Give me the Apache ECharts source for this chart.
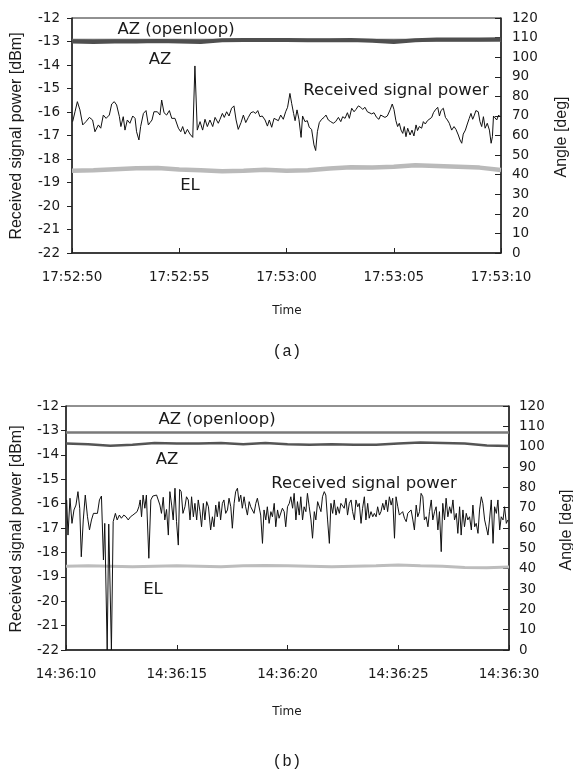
<!DOCTYPE html>
<html>
<head>
<meta charset="utf-8">
<script src="https://cdn.jsdelivr.net/npm/echarts@6/dist/echarts.min.js"></script>
<style>
  html, body { margin: 0; padding: 0; background: #fff; }
  #chart { width: 573px; height: 773px; }
</style>
</head>
<body>
<div id="chart"></div>
<script>
// tick labels of the two time axes
const ticksA = ['17:52:50', '17:52:55', '17:53:00', '17:53:05', '17:53:10'];
const ticksB = ['14:36:10', '14:36:15', '14:36:20', '14:36:25', '14:36:30'];

// seconds for the angle samples
const secs = [0, 1, 2, 3, 4, 5, 6, 7, 8, 9, 10, 11, 12, 13, 14, 15, 16, 17, 18, 19, 20];

// (a) angles [deg]
const azOpenA = [108.6, 108.6, 108.6, 108.6, 108.6, 108.6, 108.6, 108.6, 108.6, 108.6, 108.6, 108.6, 108.6, 108.6, 108.6, 108.6, 108.6, 108.6, 108.6, 108.6, 108.6];
const azA = [108.0, 107.8, 108.0, 108.0, 108.2, 108.0, 107.8, 108.6, 108.8, 108.8, 108.8, 108.6, 108.6, 108.8, 108.4, 107.8, 108.6, 109.0, 109.0, 109.0, 109.2];
const elA = [42.0, 42.3, 42.8, 43.3, 43.4, 42.6, 42.3, 41.7, 42.0, 42.5, 42.0, 42.2, 43.2, 43.8, 43.6, 44.0, 44.8, 44.4, 44.0, 43.6, 42.4];

// (b) angles [deg]
const azOpenB = [107.0, 107.0, 107.0, 107.0, 107.0, 107.0, 107.0, 107.0, 107.0, 107.0, 107.0, 107.0, 107.0, 107.0, 107.0, 107.0, 107.0, 107.0, 107.0, 107.0, 107.0];
const azB = [101.5, 101.2, 100.4, 100.9, 101.8, 101.5, 101.5, 101.8, 101.2, 101.8, 101.2, 100.9, 101.2, 100.9, 100.9, 101.5, 102.0, 101.8, 101.5, 100.6, 100.3];
const elB = [41.2, 41.4, 41.2, 41.0, 41.2, 41.4, 41.2, 41.0, 41.4, 41.6, 41.4, 41.2, 41.0, 41.2, 41.4, 41.8, 41.4, 41.2, 40.6, 40.4, 40.8];

// (a) received signal power [seconds, dBm]
const powerA = [
  [0.03,-16.41],[0.14,-15.99],[0.25,-15.56],[0.37,-15.91],[0.50,-16.55],[0.65,-16.41],[0.81,-16.23],[0.96,-16.34],[1.07,-16.84],[1.23,-16.55],
  [1.34,-16.69],[1.46,-16.13],[1.59,-16.27],[1.74,-16.13],[1.85,-15.66],[1.97,-15.56],[2.08,-15.70],[2.21,-16.20],[2.28,-16.62],[2.39,-16.20],
  [2.47,-16.77],[2.58,-16.34],[2.70,-16.48],[2.83,-16.17],[2.94,-16.27],[3.01,-16.84],[3.12,-17.19],[3.20,-16.62],[3.33,-16.06],[3.45,-15.94],
  [3.56,-16.55],[3.64,-16.45],[3.73,-16.34],[3.82,-15.99],[3.98,-15.99],[4.10,-16.13],[4.18,-15.49],[4.29,-16.03],[4.41,-16.13],[4.54,-15.94],
  [4.65,-16.27],[4.80,-16.27],[4.96,-16.69],[5.07,-16.84],[5.16,-16.62],[5.27,-16.94],[5.38,-16.74],[5.50,-16.94],[5.63,-17.08],[5.73,-14.04],
  [5.84,-16.77],[5.97,-16.41],[6.09,-16.77],[6.20,-16.31],[6.31,-16.62],[6.43,-16.34],[6.56,-16.62],[6.67,-16.23],[6.82,-16.48],
  [6.90,-16.31],[7.01,-16.06],[7.10,-16.23],[7.21,-15.99],[7.32,-16.17],[7.44,-15.84],[7.55,-15.74],[7.65,-16.34],[7.75,-16.74],[7.88,-16.45],
  [7.99,-16.13],[8.10,-16.45],[8.22,-16.23],[8.34,-16.03],[8.45,-15.99],[8.56,-16.06],[8.66,-15.94],[8.76,-16.20],[8.87,-16.17],[9.00,-16.34],
  [9.11,-16.60],[9.20,-16.34],[9.31,-16.65],[9.42,-16.27],[9.51,-16.23],[9.62,-16.37],[9.73,-16.13],[9.85,-16.31],[9.96,-15.99],[10.05,-15.80],
  [10.16,-15.21],[10.24,-15.63],[10.33,-16.06],[10.40,-16.37],[10.49,-15.91],[10.58,-16.31],[10.68,-17.08],[10.75,-16.17],[10.86,-16.41],[10.97,-16.37],
  [11.06,-16.65],[11.17,-16.74],[11.28,-17.40],[11.36,-17.64],[11.44,-16.84],[11.53,-16.45],[11.64,-16.31],[11.75,-16.23],[11.84,-16.13],[11.95,-16.34],
  [12.06,-16.41],[12.18,-16.48],[12.29,-16.41],[12.42,-16.23],[12.53,-16.41],[12.62,-16.20],[12.73,-16.27],[12.84,-16.03],[12.93,-16.27],[13.04,-15.84],
  [13.15,-15.99],[13.24,-15.89],[13.35,-15.74],[13.46,-15.80],
  [13.55,-15.89],[13.66,-15.80],[13.77,-15.99],[13.86,-15.91],[13.97,-16.08],[14.08,-16.03],[14.20,-16.23],[14.31,-16.31],[14.39,-16.13],[14.48,-16.06],
  [14.59,-16.23],[14.70,-16.17],[14.83,-15.91],[14.93,-15.66],[15.01,-15.89],[15.10,-16.37],[15.18,-16.62],[15.26,-16.48],[15.34,-16.77],[15.42,-16.91],
  [15.49,-16.62],[15.57,-17.05],[15.65,-16.69],[15.76,-16.98],[15.85,-16.77],[15.94,-17.02],[16.04,-16.55],[16.11,-16.79],[16.19,-16.62],[16.30,-16.69],
  [16.38,-16.41],[16.47,-16.51],[16.57,-16.37],[16.66,-16.31],[16.77,-16.23],[16.85,-16.03],[16.94,-15.91],[17.05,-15.80],[17.13,-16.17],[17.20,-15.94],
  [17.31,-15.84],[17.41,-16.23],[17.50,-16.34],[17.59,-16.48],[17.70,-16.77],[17.81,-16.62],[17.90,-16.74],[18.01,-16.98],[18.09,-17.19],[18.17,-17.33],
  [18.24,-16.94],[18.34,-16.77],[18.43,-16.51],[18.52,-16.27],[18.60,-16.06],[18.68,-16.31],[18.76,-16.13],[18.83,-15.94],[18.94,-15.99],[19.02,-16.41],
  [19.10,-16.62],[19.18,-16.20],[19.26,-16.69],[19.36,-16.48],[19.46,-16.77],[19.54,-17.33],[19.60,-17.05],[19.65,-16.17],[19.72,-16.23],[19.80,-16.34],
  [19.89,-16.13],[19.95,-16.20]
];

// (b) received signal power [seconds, dBm]
const powerB = [
  [0.03,-15.85],[0.09,-17.29],[0.18,-15.78],[0.27,-16.81],[0.36,-16.26],[0.45,-16.06],[0.54,-15.51],[0.62,-16.19],[0.69,-18.18],[0.78,-16.67],
  [0.87,-15.65],[0.97,-16.54],[1.06,-17.08],[1.15,-16.67],[1.24,-16.40],[1.33,-16.33],[1.42,-16.40],[1.51,-15.85],[1.60,-15.69],[1.69,-18.31],
  [1.75,-16.81],[1.86,-22],[1.93,-16.84],[2.05,-22],[2.13,-16.74],[2.23,-16.40],[2.31,-16.67],[2.41,-16.47],[2.50,-16.60],[2.61,-16.47],
  [2.71,-16.54],[2.81,-16.67],[2.91,-16.54],[3.02,-16.47],[3.11,-16.54],[3.21,-16.33],[3.29,-16.13],[3.35,-15.85],[3.41,-16.54],[3.48,-15.65],
  [3.56,-16.19],[3.63,-15.65],[3.74,-18.24],[3.83,-15.85],[3.92,-15.69],[4.01,-15.61],[4.09,-15.65],[4.16,-15.69],[4.24,-16.06],[4.31,-16.40],
  [4.39,-15.74],[4.46,-16.67],[4.54,-16.24],[4.62,-17.29],[4.69,-15.51],[4.77,-16.06],[4.84,-16.67],[4.92,-15.37],[4.99,-16.74],[5.07,-17.70],
  [5.13,-15.42],[5.20,-15.51],[5.28,-16.40],[5.37,-16.13],[5.44,-15.72],[5.52,-15.85],[5.60,-16.67],[5.67,-15.72],[5.75,-16.54],[5.82,-15.99],
  [5.90,-16.67],[5.97,-15.85],[6.05,-16.33],[6.12,-16.95],[6.20,-15.99],[6.27,-16.67],[6.35,-15.92],[6.43,-16.13],[6.53,-17.08],
  [6.61,-16.54],[6.68,-16.95],[6.76,-16.06],[6.83,-16.54],[6.91,-15.92],[6.98,-16.67],[7.06,-15.99],[7.13,-15.85],[7.21,-16.40],[7.29,-16.26],
  [7.36,-15.78],[7.44,-16.13],[7.51,-17.01],[7.59,-15.99],[7.66,-15.51],[7.74,-15.37],[7.81,-15.92],[7.89,-15.65],[7.96,-16.19],[8.04,-15.72],
  [8.11,-16.13],[8.19,-16.47],[8.27,-15.92],[8.34,-16.13],[8.42,-16.06],[8.49,-16.40],[8.57,-15.99],[8.64,-15.78],[8.72,-15.85],[8.79,-16.47],
  [8.87,-17.63],[8.94,-16.26],[9.02,-16.67],[9.09,-16.13],[9.17,-16.81],[9.25,-16.33],[9.32,-16.54],[9.40,-15.99],[9.47,-16.95],[9.55,-16.26],
  [9.62,-16.60],[9.70,-16.67],[9.77,-16.19],[9.85,-16.33],[9.92,-16.95],[10.00,-16.13],[10.08,-15.99],[10.15,-15.72],[10.23,-16.19],[10.30,-15.58],
  [10.38,-16.67],[10.45,-15.92],[10.53,-16.47],[10.60,-15.72],[10.68,-16.67],[10.75,-16.13],[10.83,-16.33],[10.90,-15.58],[10.98,-16.13],[11.06,-16.67],
  [11.13,-17.42],[11.21,-16.33],[11.28,-16.67],[11.36,-15.92],[11.43,-15.92],[11.51,-16.33],[11.58,-15.72],[11.66,-15.51],[11.73,-15.65],[11.81,-16.67],
  [11.89,-17.63],[11.96,-15.99],[12.04,-16.40],[12.11,-15.85],[12.19,-16.47],[12.26,-16.13],[12.34,-16.40],[12.41,-15.99],[12.49,-15.92],[12.56,-16.19],
  [12.64,-15.78],[12.71,-16.47],[12.79,-15.99],[12.87,-15.85],[12.94,-16.33],[13.02,-16.67],[13.09,-15.85],[13.17,-16.13],
  [13.24,-15.99],[13.32,-16.81],[13.39,-16.19],[13.47,-15.72],[13.54,-16.67],[13.62,-15.99],[13.69,-16.60],[13.77,-16.33],[13.85,-16.54],[13.92,-16.40],
  [14.00,-16.54],[14.07,-16.13],[14.15,-16.47],[14.22,-16.33],[14.30,-15.99],[14.37,-16.26],[14.45,-15.85],[14.52,-16.33],[14.60,-15.72],[14.68,-16.06],
  [14.75,-15.78],[14.83,-17.42],[14.90,-15.72],[14.98,-16.13],[15.05,-16.47],[15.13,-16.54],[15.20,-16.33],[15.28,-16.60],[15.36,-16.74],[15.43,-16.40],
  [15.51,-16.47],[15.58,-16.26],[15.66,-16.67],[15.73,-17.08],[15.81,-16.06],[15.88,-16.54],[15.96,-16.33],[16.03,-15.58],[16.11,-15.72],[16.18,-16.67],
  [16.26,-16.54],[16.34,-16.95],[16.41,-16.33],[16.49,-15.85],[16.56,-16.67],[16.64,-16.33],[16.71,-16.13],[16.79,-17.08],[16.86,-16.33],[16.94,-17.97],
  [17.01,-15.99],[17.09,-16.67],[17.16,-15.78],[17.24,-16.54],[17.32,-16.13],[17.39,-16.40],[17.47,-15.85],[17.54,-16.67],[17.62,-16.40],[17.69,-17.22],
  [17.77,-16.13],[17.84,-17.29],[17.92,-16.26],[17.99,-16.95],[18.07,-16.40],[18.14,-16.67],[18.22,-16.54],[18.30,-17.08],[18.37,-16.06],[18.45,-16.95],
  [18.52,-16.81],[18.60,-17.22],[18.67,-16.26],[18.75,-15.72],[18.82,-15.99],[18.90,-16.67],[18.97,-16.95],[19.05,-17.29],[19.12,-16.67],[19.20,-15.85],
  [19.28,-17.63],[19.35,-16.13],[19.43,-16.40],[19.50,-15.85],[19.58,-17.08],[19.65,-16.54],[19.73,-16.67],[19.80,-16.13],[19.88,-16.81],[19.95,-16.67]
];

const SANS = '"DejaVu Sans", sans-serif';
const TXT = '#1a1a1a';

const withSecs = (vals) => vals.map((v, i) => [secs[i], v]);

// one x axis + two y axes per panel
function timeAxis(gridIndex, ticks) {
  return {
    type: 'value', gridIndex: gridIndex, min: 0, max: 20, interval: 5,
    axisLine: { lineStyle: { color: '#222', width: 1.5 } },
    axisTick: { inside: true, length: 5, lineStyle: { color: '#222' } },
    axisLabel: { margin: 17, color: TXT, fontFamily: SANS, fontSize: 13.5, formatter: (v) => ticks[v / 5] },
    splitLine: { show: false }
  };
}
function dbmAxis(gridIndex, margin) {
  return {
    type: 'value', gridIndex: gridIndex, position: 'left', min: -22, max: -12, interval: 1,
    axisLine: { show: true, lineStyle: { color: '#222', width: 1.5 } },
    axisTick: { show: true, length: 5, lineStyle: { color: '#222' } },
    axisLabel: { margin: margin, color: TXT, fontFamily: SANS, fontSize: 13.5 },
    splitLine: { show: false }
  };
}
function angleAxis(gridIndex, margin) {
  return {
    type: 'value', gridIndex: gridIndex, position: 'right', min: 0, max: 120, interval: 10,
    axisLine: { show: true, lineStyle: { color: '#222', width: 1.5 } },
    axisTick: { show: true, inside: true, length: 6, lineStyle: { color: '#222' } },
    axisLabel: { margin: margin, color: TXT, fontFamily: SANS, fontSize: 13.5 },
    splitLine: { show: false }
  };
}
function line(xi, yi, data, color, width, z) {
  return {
    type: 'line', xAxisIndex: xi, yAxisIndex: yi, data: data,
    showSymbol: false, symbol: 'none', z: z,
    lineStyle: { color: color, width: width }
  };
}
function label(text, x, y, font) {
  return {
    type: 'text', x: x, y: y, z: 100,
    style: {
      text: text, fill: TXT, font: font,
      textAlign: 'center', textVerticalAlign: 'middle', align: 'center', verticalAlign: 'middle'
    }
  };
}
function vlabel(text, x, y) {
  return {
    type: 'text', x: x, y: y, rotation: Math.PI / 2, z: 100,
    style: {
      text: text, fill: TXT, font: '16px "Liberation Sans", sans-serif',
      textAlign: 'center', textVerticalAlign: 'middle', align: 'center', verticalAlign: 'middle'
    }
  };
}
const NOTE = '16.5px ' + SANS;
const CAP = '16px "Liberation Mono", monospace';

const chart = echarts.init(document.getElementById('chart'));
const option = {
  animation: false,
  backgroundColor: '#fff',
  grid: [
    { left: 72, top: 18, width: 429, height: 235, show: true, borderColor: '#222', borderWidth: 1 },
    { left: 66, top: 406, width: 443, height: 244, show: true, borderColor: '#222', borderWidth: 1 }
  ],
  xAxis: [timeAxis(0, ticksA), timeAxis(1, ticksB)],
  yAxis: [dbmAxis(0, 12), angleAxis(0, 11), dbmAxis(1, 7), angleAxis(1, 10)],
  series: [
    line(0, 1, withSecs(elA), '#bababa', 4.5, 2),
    line(0, 1, withSecs(azOpenA), '#6e6e6e', 3, 3),
    line(0, 1, withSecs(azA), '#4f4f4f', 4, 4),
    line(0, 0, powerA, '#111', 1, 5),
    line(1, 3, withSecs(elB), '#bdbdbd', 3, 2),
    line(1, 3, withSecs(azOpenB), '#7a7a7a', 2.5, 3),
    line(1, 3, withSecs(azB), '#555', 2.5, 4),
    line(1, 2, powerB, '#111', 1, 5)
  ],
  graphic: [
    label('AZ (openloop)', 176, 30, NOTE),
    label('AZ', 160, 60, NOTE),
    label('Received signal power', 396, 91, NOTE),
    label('EL', 190, 186, NOTE),
    label('Time', 287, 311, '12px ' + SANS),
    label('(a)', 287, 352, CAP),
    vlabel('Received signal power [dBm]', 17, 136),
    vlabel('Angle [deg]', 562, 137),

    label('AZ (openloop)', 217, 420, NOTE),
    label('AZ', 167, 460, NOTE),
    label('Received signal power', 364, 484, NOTE),
    label('EL', 153, 590, NOTE),
    label('Time', 287, 712, '12px ' + SANS),
    label('(b)', 287, 762, CAP),
    vlabel('Received signal power [dBm]', 17, 529),
    vlabel('Angle [deg]', 567, 530)
  ]
};
option && chart.setOption(option);
</script>
</body>
</html>
